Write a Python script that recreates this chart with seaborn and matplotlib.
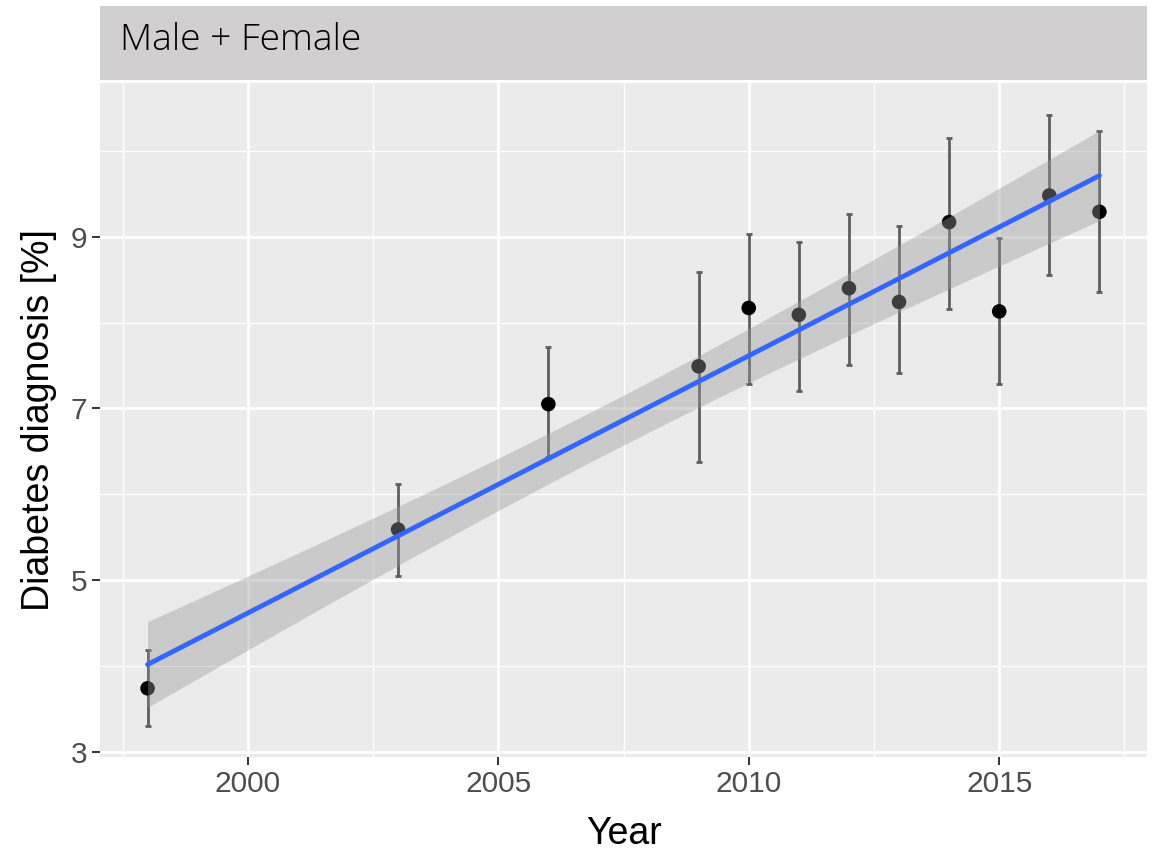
import numpy as np
import pandas as pd
import matplotlib
matplotlib.use("Agg")
import matplotlib.pyplot as plt
from matplotlib.patches import Rectangle
import seaborn as sns

# ---- data ----
years = [1998, 2003, 2006, 2009, 2010, 2011, 2012, 2013, 2014, 2015, 2016, 2017]
diabetes = [3.74, 5.59, 7.05, 7.49, 8.17, 8.09, 8.40, 8.24, 9.17, 8.13, 9.48, 9.29]
lower = [3.30, 5.05, 6.43, 6.38, 7.29, 7.20, 7.51, 7.41, 8.16, 7.28, 8.55, 8.35]
upper = [4.19, 6.12, 7.71, 8.59, 9.03, 8.94, 9.27, 9.12, 10.15, 8.98, 10.42, 10.23]
x_ticks = [2000, 2005, 2010, 2015]
y_ticks = [3, 5, 7, 9]
panel_title = "Male + Female"

df = pd.DataFrame({"Year": years, "Diabetes": diabetes, "lo": lower, "hi": upper})

# ---- inverse-variance weighted linear fit with 95% confidence band ----
x = np.array(years, dtype=float)
y = np.array(diabetes, dtype=float)
sd = (np.array(upper) - np.array(lower)) / (2 * 1.96)
w = 1.0 / sd ** 2
n = len(x)
X = np.column_stack([np.ones(n), x - 2008])
XtW = X.T * w
cov_unscaled = np.linalg.inv(XtW @ X)
beta = cov_unscaled @ (XtW @ y)
resid = y - X @ beta
sigma2 = np.sum(w * resid ** 2) / (n - 2)
t_crit = 2.228139  # t(0.975, df=10)
xg = np.linspace(x.min(), x.max(), 200)
Xg = np.column_stack([np.ones_like(xg), xg - 2008])
yg = Xg @ beta
se = np.sqrt(sigma2 * np.einsum("ij,jk,ik->i", Xg, cov_unscaled, Xg))
fit = pd.DataFrame({"Year": xg, "fit": yg, "lo": yg - t_crit * se, "hi": yg + t_crit * se})

# ---- figure ----
sns.set_theme(style="darkgrid")
plt.rcParams["font.family"] = ["Liberation Sans", "DejaVu Sans"]

W, H = 1158, 852
fig = plt.figure(figsize=(W / 100, H / 100), dpi=100)
fig.patch.set_facecolor("white")

pl, pr, pt, pb = 100, 1147, 83, 757
ax = fig.add_axes([pl / W, 1 - pb / H, (pr - pl) / W, (pb - pt) / H])
ax.set_facecolor("#EBEBEB")

# strip
fig.patches.append(Rectangle((pl / W, 1 - 80 / H), (pr - pl) / W, 74 / H,
                             transform=fig.transFigure, facecolor="#D1CFD0",
                             edgecolor="none", zorder=0))
fig.text(120 / W, 1 - 40 / H, panel_title, ha="left", va="center",
         fontsize=26.8, color="black", family=["Open Sans", "DejaVu Sans"],
         fontweight="light")

# error bars + points
ax.errorbar(df["Year"], df["Diabetes"],
            yerr=[df["Diabetes"] - df["lo"], df["hi"] - df["Diabetes"]],
            fmt="none", ecolor="#5E5E5E", elinewidth=2.0, capsize=2.5,
            capthick=2.0, zorder=3)
sns.scatterplot(data=df, x="Year", y="Diabetes", ax=ax, color="black",
                s=110, edgecolor="none", zorder=4, legend=False)

# smooth ribbon + line
ax.fill_between(fit["Year"], fit["lo"], fit["hi"], color="#999999", alpha=0.4,
                linewidth=0, zorder=5)
sns.lineplot(data=fit, x="Year", y="fit", ax=ax, color="#3366FF", linewidth=3.5,
             zorder=6)

# scales
ax.set_xlim(1997.05, 2017.95)
ax.set_ylim(2.94, 10.79)
ax.set_xticks(x_ticks)
ax.set_yticks(y_ticks)
ax.set_xticks([1997.5, 2002.5, 2007.5, 2012.5, 2017.5], minor=True)
ax.set_yticks([4, 6, 8, 10], minor=True)
ax.grid(which="major", color="white", linewidth=2.0)
ax.grid(which="minor", color="white", linewidth=1.0)
ax.set_axisbelow(True)
for sp in ax.spines.values():
    sp.set_visible(False)

ax.tick_params(axis="both", which="major", length=6, width=1.4, color="#333333",
               labelsize=21.5, labelcolor="#4D4D4D", pad=3, bottom=True, left=True)
ax.tick_params(axis="both", which="minor", length=0)

ax.set_xlabel("Year", fontsize=27, color="black", labelpad=13)
ax.set_ylabel("Diabetes diagnosis [%]", fontsize=27, color="black", labelpad=10)

fig.savefig("out.png", dpi=100)
